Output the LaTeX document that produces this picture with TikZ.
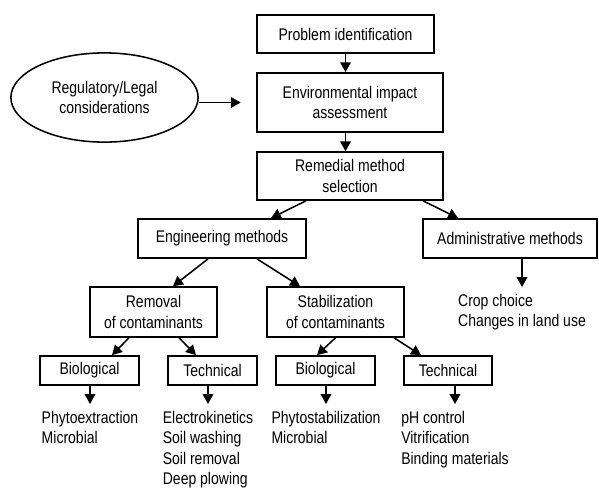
\documentclass[tikz,border=0pt]{standalone}
\usepackage{fontspec}
\setmainfont{Liberation Sans}[FakeStretch=0.83]
\usetikzlibrary{calc}
\usetikzlibrary{arrows.meta}
\usetikzlibrary{shapes.geometric}
\pgfdeclarelayer{edgelayer}
\pgfdeclarelayer{nodelayer}
\pgfsetlayers{edgelayer,nodelayer,main}
\tikzstyle{stage}=[rectangle,fill=white,draw=black,line width=1.1pt,align=center,inner sep=0pt]
\tikzstyle{oval}=[ellipse,fill=white,draw=black,line width=1.1pt,align=center,inner sep=0pt]
\tikzstyle{list}=[align=left,anchor=north,inner xsep=0pt,inner ysep=5pt]
\tikzstyle{flow}=[-{Triangle[length=7pt,width=7.5pt]},draw=black,line width=1.1pt]

\begin{document}
\begin{tikzpicture}[x=0.025cm,y=-0.025cm,font=\fontsize{12}{14.5}\selectfont]
	\useasboundingbox (0,0) rectangle (599,489);
	\begin{pgfonlayer}{nodelayer}
		\node [style=stage, minimum width=4.43cm, minimum height=0.95cm] (0) at (345.5, 34) {Problem identification};
		\node [style=stage, minimum width=4.65cm, minimum height=1.48cm] (1) at (350, 102.5) {Environmental impact\\assessment};
		\node [style=oval, minimum width=4.68cm, minimum height=2.23cm] (2) at (104.5, 97.5) {Regulatory/Legal\\considerations};
		\node [style=stage, minimum width=4.65cm, minimum height=1.2cm] (3) at (350, 176) {Remedial method\\selection};
		\node [style=stage, minimum width=4.2cm, minimum height=0.98cm] (4) at (222, 238.5) {Engineering methods};
		\node [style=stage, minimum width=4.35cm, minimum height=0.98cm] (5) at (510, 238.5) {Administrative methods};
		\node [style=stage, minimum width=3.18cm, minimum height=1.25cm] (6) at (153.5, 312) {Removal\\of contaminants};
		\node [style=stage, minimum width=3.43cm, minimum height=1.25cm] (7) at (335.5, 312) {Stabilization\\of contaminants};
		\node [style=stage, minimum width=2.48cm, minimum height=0.73cm] (8) at (89.5, 370.5) {Biological};
		\node [style=stage, minimum width=2.23cm, minimum height=0.73cm] (9) at (212.5, 370.5) {Technical};
		\node [style=stage, minimum width=2.48cm, minimum height=0.73cm] (10) at (325.5, 370.5) {Biological};
		\node [style=stage, minimum width=2.2cm, minimum height=0.73cm] (11) at (448, 370.5) {Technical};
		\node [style=list] (12) at (522, 287) {Crop choice\\Changes in land use};
		\node [style=list] (13) at (90, 404) {Phytoextraction\\Microbial};
		\node [style=list] (14) at (208, 404) {Electrokinetics\\Soil washing\\Soil removal\\Deep plowing};
		\node [style=list] (15) at (326, 404) {Phytostabilization\\Microbial\\\phantom{X}\\\phantom{X}};
		\node [style=list] (16) at (455, 404) {pH control\\Vitrification\\Binding materials};
	\end{pgfonlayer}
	\begin{pgfonlayer}{edgelayer}
		\draw [style=flow] (0.south) to (0.south |- 1.north);
		\draw [style=flow] (1.south -| 0.south) to (3.north -| 0.south);
		\draw [style=flow, shorten >=11] (2.east |- 1.west) to (1.west);
		\draw [style=flow] ($(3.south)+(-44,0)$) to ($(4.north)+(49,0)$);
		\draw [style=flow] ($(3.south)+(73,0)$) to ($(5.north)+(-52,0)$);
		\draw [style=flow] ($(4.south)+(-14,0)$) to ($(6.north)+(19.5,0)$);
		\draw [style=flow] ($(4.south)+(35,0)$) to ($(7.north)+(-35.5,0)$);
		\draw [style=flow] ($(6.south)+(-24.5,0)$) to ($(8.north)+(22.5,0)$);
		\draw [style=flow] ($(6.south)+(25.5,0)$) to ($(9.north)+(-16.5,0)$);
		\draw [style=flow] ($(7.south)+(0,0)$) to ($(10.north)+(-8.5,0)$);
		\draw [style=flow] ($(7.south)+(58.5,0)$) to ($(11.north)+(-27,0)$);
		\draw [style=flow] (5.south -| 12.north) to (12.north);
		\draw [style=flow] (8.south -| 13.north) to (13.north);
		\draw [style=flow] (9.south -| 14.north) to (14.north);
		\draw [style=flow] (10.south -| 15.north) to (15.north);
		\draw [style=flow] (11.south -| 16.north) to (16.north);
	\end{pgfonlayer}
\end{tikzpicture}
\end{document}
